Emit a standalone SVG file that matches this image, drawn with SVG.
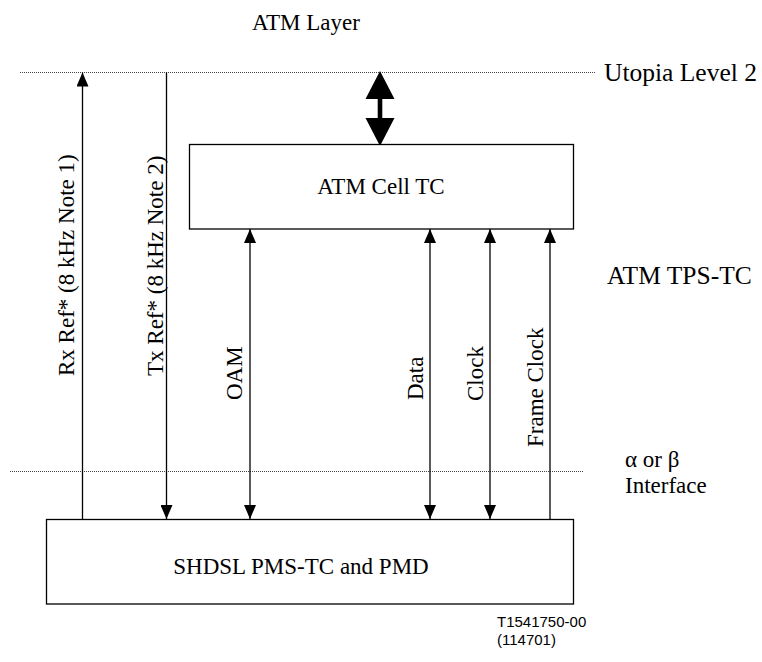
<svg xmlns="http://www.w3.org/2000/svg" width="762" height="662" viewBox="0 0 762 662">
<defs>
<marker id="ah" viewBox="0 0 14 12" refX="14" refY="6" markerWidth="14" markerHeight="12" markerUnits="userSpaceOnUse" orient="auto-start-reverse">
<path d="M0,0 L14,6 L0,12 Z" fill="#000"/>
</marker>
</defs>
<style>
.t{font-family:"Liberation Serif","Times New Roman",serif;font-size:23px;fill:#000}
.big{font-size:25.5px}
.s{font-family:"Liberation Sans",Arial,sans-serif;font-size:15px;fill:#000}
.box{fill:#fff;stroke:#000;stroke-width:1.3}
.ln{stroke:#000;stroke-width:1.3;fill:none}
.dot{stroke:#444;stroke-width:1;stroke-dasharray:1 1;fill:none}
</style>
<rect width="762" height="662" fill="#fff"/>
<text class="t" x="252" y="30">ATM Layer</text>
<line class="dot" x1="20" y1="72.5" x2="595" y2="72.5"/>
<text class="t big" x="604" y="81">Utopia Level 2</text>
<text class="t big" x="607" y="284">ATM TPS-TC</text>
<line class="dot" x1="10" y1="471.5" x2="583" y2="471.5"/>
<text class="t" x="625" y="467">α or β</text>
<text class="t" x="625" y="493">Interface</text>
<g id="connectors">
<line class="ln" x1="82.5" y1="519" x2="82.5" y2="72.5" marker-end="url(#ah)"/>
<line class="ln" x1="166.5" y1="72.5" x2="166.5" y2="519" marker-end="url(#ah)"/>
<line class="ln" x1="250" y1="229" x2="250" y2="519" marker-start="url(#ah)" marker-end="url(#ah)"/>
<line class="ln" x1="430" y1="229" x2="430" y2="519" marker-start="url(#ah)" marker-end="url(#ah)"/>
<line class="ln" x1="490" y1="229" x2="490" y2="519" marker-start="url(#ah)" marker-end="url(#ah)"/>
<line class="ln" x1="550" y1="519" x2="550" y2="229" marker-end="url(#ah)"/>
<polygon points="380,71 394.5,99 382.3,99 382.3,118 394.5,118 380,146 365.5,118 377.7,118 377.7,99 365.5,99" fill="#000"/>
</g>
<g id="labels">
<text class="t" transform="translate(74,376) rotate(-90)">Rx Ref* (8 kHz Note 1)</text>
<text class="t" transform="translate(163,376) rotate(-90)">Tx Ref* (8 kHz Note 2)</text>
<text class="t" transform="translate(242,400) rotate(-90)">OAM</text>
<text class="t" transform="translate(423,400) rotate(-90)">Data</text>
<text class="t" transform="translate(483,401) rotate(-90)">Clock</text>
<text class="t" transform="translate(543,447) rotate(-90)">Frame Clock</text>
</g>
<g id="atm-cell-tc">
<rect class="box" x="189.5" y="144.5" width="384" height="84.5"/>
<text class="t" x="381" y="194" text-anchor="middle">ATM Cell TC</text>
</g>
<g id="shdsl">
<rect class="box" x="46.5" y="519.5" width="527" height="84.5"/>
<text class="t" x="301" y="574" text-anchor="middle">SHDSL PMS-TC and PMD</text>
</g>
<text class="s" x="497" y="627">T1541750-00</text>
<text class="s" x="497" y="645">(114701)</text>
</svg>
